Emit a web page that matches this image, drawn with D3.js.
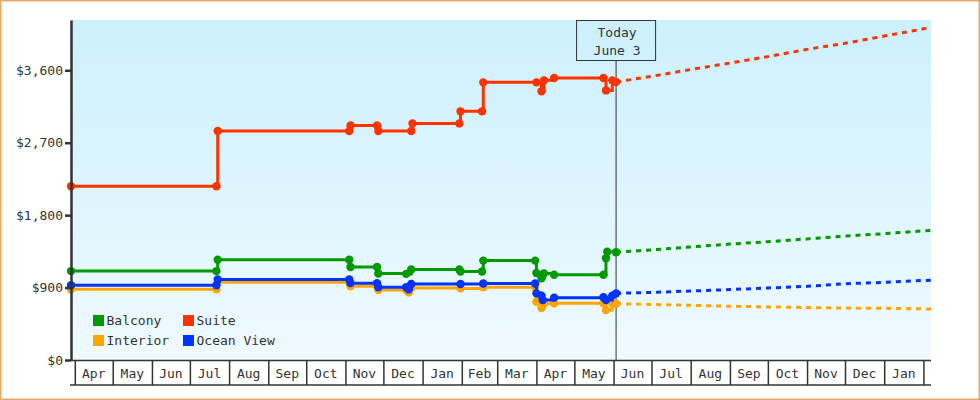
<!DOCTYPE html>
<html>
<head>
<meta charset="utf-8">
<script src="https://cdn.jsdelivr.net/npm/d3@7"></script>
<style>
  body { margin: 0; background: #fff; }
  text { font-family: "DejaVu Sans Mono", monospace; font-size: 13px; fill: #333; }
</style>
</head>
<body>
<svg id="graph" width="980" height="400"></svg>
<script>
// precios observados [fecha, valor]
var balconyObs = [
  ["2014-03-29", 1105], ["2014-07-22", 1105], ["2014-07-23", 1245], ["2014-11-04", 1245],
  ["2014-11-05", 1155], ["2014-11-26", 1155], ["2014-11-27", 1075], ["2014-12-19", 1070],
  ["2014-12-23", 1125], ["2015-01-30", 1125], ["2015-01-31", 1100], ["2015-02-17", 1100],
  ["2015-02-18", 1235], ["2015-03-31", 1235], ["2015-04-01", 1080], ["2015-04-05", 1015],
  ["2015-04-07", 1075], ["2015-04-15", 1060], ["2015-05-24", 1060], ["2015-05-26", 1265],
  ["2015-05-27", 1345], ["2015-06-03", 1340]
];
var suiteObs = [
  ["2014-03-29", 2160], ["2014-07-22", 2160], ["2014-07-23", 2845], ["2014-11-04", 2845],
  ["2014-11-05", 2915], ["2014-11-26", 2915], ["2014-11-27", 2845], ["2014-12-23", 2845],
  ["2014-12-24", 2940], ["2015-01-30", 2940], ["2015-01-31", 3090], ["2015-02-17", 3090],
  ["2015-02-18", 3450], ["2015-04-01", 3450], ["2015-04-05", 3340], ["2015-04-07", 3475],
  ["2015-04-15", 3505], ["2015-05-24", 3505], ["2015-05-26", 3350], ["2015-05-31", 3475],
  ["2015-06-03", 3455]
];
var interiorObs = [
  ["2014-03-29", 880], ["2014-07-22", 880], ["2014-07-23", 965], ["2014-11-04", 965],
  ["2014-11-05", 915], ["2014-11-26", 915], ["2014-11-27", 870], ["2014-12-19", 870],
  ["2014-12-21", 840], ["2014-12-23", 895], ["2015-01-31", 890], ["2015-02-18", 905],
  ["2015-03-31", 905], ["2015-04-01", 725], ["2015-04-05", 645], ["2015-04-07", 700],
  ["2015-04-15", 705], ["2015-05-24", 705], ["2015-05-26", 620], ["2015-05-31", 700],
  ["2015-06-03", 700]
];
var oceanObs = [
  ["2014-03-29", 930], ["2014-07-22", 930], ["2014-07-23", 1000], ["2014-11-04", 1000],
  ["2014-11-05", 955], ["2014-11-26", 955], ["2014-11-27", 905], ["2014-12-19", 905],
  ["2014-12-21", 880], ["2014-12-23", 945], ["2015-01-31", 945], ["2015-02-18", 950],
  ["2015-03-31", 950], ["2015-04-01", 828], ["2015-04-05", 800], ["2015-04-06", 745],
  ["2015-04-15", 775], ["2015-05-24", 780], ["2015-05-26", 745], ["2015-05-31", 800],
  ["2015-06-03", 828]
];

// pronostico
var forecastDates = ["2015-06-03", "2015-07-01", "2015-08-01", "2015-09-01", "2015-10-01",
  "2015-11-01", "2015-12-01", "2016-01-01", "2016-02-01", "2016-02-07"];
var balconyFc = [1340, 1368, 1405, 1440, 1470, 1505, 1540, 1570, 1605, 1610];
var suiteFc = [3455, 3525, 3610, 3690, 3770, 3860, 3935, 4025, 4115, 4130];
var interiorFc = [700, 690, 680, 668, 660, 652, 645, 642, 635, 633];
var oceanFc = [828, 840, 857, 875, 895, 915, 948, 965, 988, 990];

var yTicks = [0, 900, 1800, 2700, 3600];
var today = "2015-06-03";
var todayLabel = ["Today", "June 3"];

var series = [
  { name: "Balcony", color: "#009900", obs: balconyObs, fc: balconyFc },
  { name: "Suite", color: "#ff3300", obs: suiteObs, fc: suiteFc },
  { name: "Interior", color: "#ffa500", obs: interiorObs, fc: interiorFc },
  { name: "Ocean View", color: "#0033ff", obs: oceanObs, fc: oceanFc }
];
var drawOrder = ["Balcony", "Interior", "Ocean View", "Suite"];

var parse = d3.timeParse("%Y-%m-%d");

function creaGrafica() {
  var svg = d3.select("#graph");
  var margin = { top: 20, right: 49, bottom: 40, left: 71 };
  var width = +svg.attr("width") - margin.left - margin.right;
  var height = +svg.attr("height") - margin.top - margin.bottom;

  // borde exterior
  svg.append("rect")
    .attr("x", 0.75).attr("y", 0.75)
    .attr("width", 978.5).attr("height", 398.5)
    .attr("fill", "#fff")
    .attr("stroke", "#e8aa66")
    .attr("stroke-width", 1.5);

  var defs = svg.append("defs");
  var grad = defs.append("linearGradient").attr("id", "bg")
    .attr("x1", 0).attr("y1", 0).attr("x2", 0).attr("y2", 1);
  grad.append("stop").attr("offset", "0%").attr("stop-color", "#ccf0fd");
  grad.append("stop").attr("offset", "100%").attr("stop-color", "#f0faff");

  var g = svg.append("g").attr("transform", "translate(" + margin.left + "," + margin.top + ")");

  var x = d3.scaleTime()
    .domain([parse("2014-03-29"), parse("2016-02-07")])
    .range([0, width]);
  var y = d3.scaleLinear()
    .domain([0, 4225])
    .range([height, 0]);

  g.append("rect")
    .attr("width", width).attr("height", height)
    .attr("fill", "url(#bg)");

  // linea de hoy
  var tx = x(parse(today));
  g.append("line")
    .attr("x1", tx).attr("x2", tx)
    .attr("y1", 40.7).attr("y2", height)
    .attr("stroke", "#333").attr("stroke-width", 1);
  g.append("rect")
    .attr("x", tx - 39.5).attr("y", 0.5)
    .attr("width", 79).attr("height", 40)
    .attr("fill", "none").attr("stroke", "#333").attr("stroke-width", 1);
  g.selectAll(".todaytxt").data(todayLabel).enter()
    .append("text")
    .attr("x", tx + 1)
    .attr("y", (d, i) => 17 + i * 18)
    .attr("text-anchor", "middle")
    .text(d => d);

  var stepLine = d3.line()
    .x(d => x(parse(d[0])))
    .y(d => y(d[1]))
    .curve(d3.curveStepAfter);
  var fcLine = d3.line()
    .x((d, i) => x(parse(forecastDates[i])))
    .y(d => y(d));

  drawOrder.forEach(function (nm) {
    var s = series.find(d => d.name == nm);
    g.append("path")
      .attr("d", fcLine(s.fc))
      .attr("fill", "none")
      .attr("stroke", s.color)
      .attr("stroke-width", 3)
      .attr("stroke-dasharray", "5,5");
    g.append("path")
      .attr("d", stepLine(s.obs))
      .attr("fill", "none")
      .attr("stroke", s.color)
      .attr("stroke-width", 3);
    g.append("g")
      .selectAll("circle")
      .data(s.obs)
      .enter()
      .append("circle")
      .attr("cx", d => x(parse(d[0])))
      .attr("cy", d => y(d[1]))
      .attr("r", 4.2)
      .attr("fill", s.color);
  });

  // leyenda
  var legend = g.append("g").attr("transform", "translate(22,295)");
  var item = legend.selectAll(".item").data(series).enter()
    .append("g")
    .attr("transform", (d, i) => "translate(" + ((i % 2) * 90) + "," + (Math.floor(i / 2) * 20) + ")");
  item.append("rect")
    .attr("width", 11).attr("height", 11)
    .attr("fill", d => d.color);
  item.append("text")
    .attr("x", 13.5).attr("y", 10)
    .text(d => d.name);

  // eje x: cajas de meses
  var xAxis = g.append("g")
    .attr("class", "xaxis")
    .attr("transform", "translate(0," + height + ")")
    .call(d3.axisBottom(x).ticks(d3.timeMonth.every(1)).tickSize(25).tickFormat(""));
  xAxis.select(".domain").remove();
  xAxis.selectAll(".tick line").attr("stroke", "#333").attr("stroke-width", 1.5);
  xAxis.append("line")
    .attr("x1", -1).attr("x2", width)
    .attr("y1", 25).attr("y2", 25)
    .attr("stroke", "#333").attr("stroke-width", 1.5);
  xAxis.append("line")
    .attr("x1", 0).attr("x2", width)
    .attr("y1", 0.5).attr("y2", 0.5)
    .attr("stroke", "#333").attr("stroke-width", 1.5);

  var months = d3.timeMonth.range(d3.timeMonth.ceil(x.domain()[0]), x.domain()[1])
    .filter(m => d3.timeMonth.offset(m, 1) <= x.domain()[1]);
  xAxis.selectAll(".mlabel").data(months).enter()
    .append("text")
    .attr("x", m => (x(m) + x(d3.timeMonth.offset(m, 1))) / 2)
    .attr("y", 18)
    .attr("text-anchor", "middle")
    .text(d3.timeFormat("%b"));

  // eje y
  var yAxis = g.append("g")
    .attr("class", "yaxis")
    .call(d3.axisLeft(y).tickValues(yTicks).tickSize(6).tickSizeOuter(0)
      .tickFormat(d => "$" + d3.format(",")(d)));
  yAxis.select(".domain").attr("stroke", "#333").attr("stroke-width", 2.5);
  yAxis.selectAll(".tick line").attr("stroke", "#333").attr("stroke-width", 2.5);
  yAxis.selectAll(".tick text")
    .attr("x", -8)
    .style("font-family", "'DejaVu Sans Mono', monospace")
    .style("font-size", "13px")
    .attr("fill", "#333");
}

creaGrafica();
</script>
</body>
</html>
